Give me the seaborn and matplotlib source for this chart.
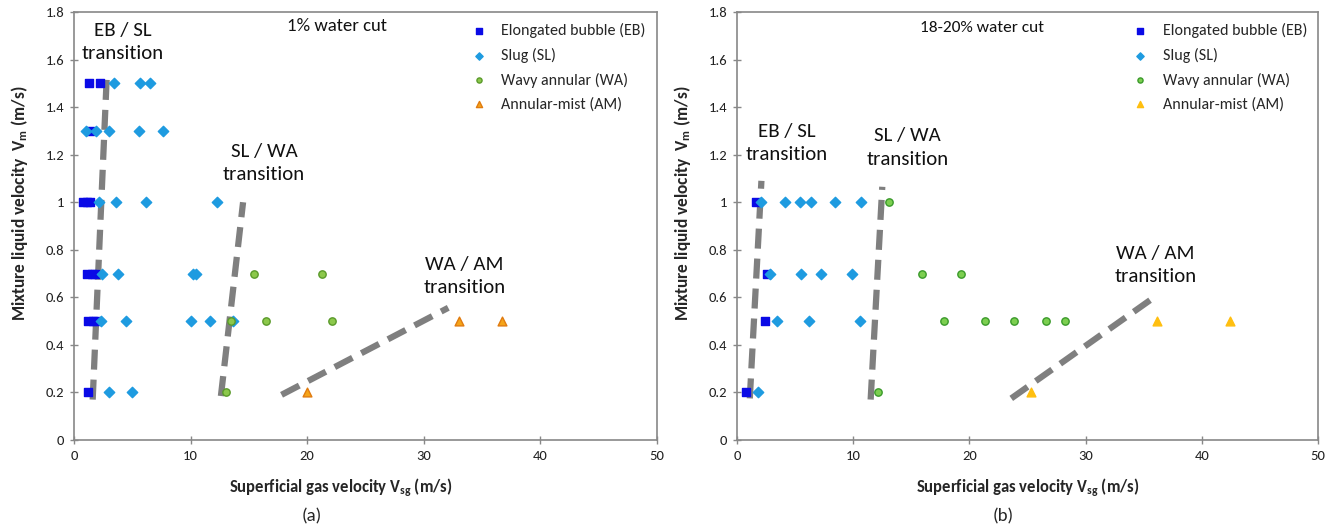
import numpy as np
import pandas as pd
import matplotlib
matplotlib.use("Agg")
import matplotlib.pyplot as plt
import seaborn as sns

sns.set_style("white")
plt.rcParams.update({
    "font.family": ["Carlito", "Lato", "DejaVu Sans"],
    "mathtext.default": "regular",
    "axes.edgecolor": "#888888",
    "axes.linewidth": 1.2,
})

REGIMES = ["Elongated bubble (EB)", "Slug (SL)", "Wavy annular (WA)", "Annular-mist (AM)"]

# panel (a): 1% water cut
a_eb_x = [1.3, 2.2, 1.4, 0.8, 1.1, 1.4, 1.1, 1.5, 1.8, 1.2, 1.6, 1.9, 1.2]
a_eb_y = [1.5, 1.5, 1.3, 1.0, 1.0, 1.0, 0.7, 0.7, 0.7, 0.5, 0.5, 0.5, 0.2]
a_sl_x = [3.4, 5.7, 6.5, 1.0, 1.9, 3.0, 5.6, 7.6, 2.1, 3.6, 6.2, 12.3,
          2.4, 3.8, 10.2, 10.5, 2.3, 4.5, 10.0, 11.7, 13.6, 3.0, 5.0]
a_sl_y = [1.5, 1.5, 1.5, 1.3, 1.3, 1.3, 1.3, 1.3, 1.0, 1.0, 1.0, 1.0,
          0.7, 0.7, 0.7, 0.7, 0.5, 0.5, 0.5, 0.5, 0.5, 0.2, 0.2]
a_wa_x = [15.4, 21.3, 13.5, 16.5, 22.1, 13.0]
a_wa_y = [0.7, 0.7, 0.5, 0.5, 0.5, 0.2]
a_am_x = [33.0, 36.7, 20.0]
a_am_y = [0.5, 0.5, 0.2]

# panel (b): 18-20% water cut
b_eb_x = [1.6, 2.6, 2.4, 0.8]
b_eb_y = [1.0, 0.7, 0.5, 0.2]
b_sl_x = [2.1, 4.1, 5.4, 6.4, 8.4, 10.7, 2.8, 5.5, 7.2, 9.9, 3.4, 6.2, 10.6, 1.8]
b_sl_y = [1.0, 1.0, 1.0, 1.0, 1.0, 1.0, 0.7, 0.7, 0.7, 0.7, 0.5, 0.5, 0.5, 0.2]
b_wa_x = [13.1, 15.9, 19.3, 17.8, 21.3, 23.8, 26.6, 28.2, 12.1]
b_wa_y = [1.0, 0.7, 0.7, 0.5, 0.5, 0.5, 0.5, 0.5, 0.2]
b_am_x = [36.1, 42.4, 25.3]
b_am_y = [0.5, 0.5, 0.2]

# transition lines: (x0, x1), (y0, y1)
a_lines = {"EB / SL": ([1.6, 2.8], [0.17, 1.52]),
           "SL / WA": ([12.6, 14.5], [0.185, 1.0]),
           "WA / AM": ([17.8, 32.1], [0.19, 0.556])}
b_lines = {"EB / SL": ([1.1, 2.1], [0.175, 1.09]),
           "SL / WA": ([11.5, 12.5], [0.17, 1.065]),
           "WA / AM": ([23.6, 35.6], [0.175, 0.59])}

# label anchor (x centre, y top) per transition
a_text = {"EB / SL": (4.2, 1.76), "SL / WA": (16.3, 1.25), "WA / AM": (33.5, 0.775)}
b_text = {"EB / SL": (4.3, 1.335), "SL / WA": (14.7, 1.315), "WA / AM": (36.0, 0.82)}


def frame(eb, sl, wa, am):
    parts = []
    for name, (xs, ys) in zip(REGIMES, [eb, sl, wa, am]):
        parts.append(pd.DataFrame({"vsg": xs, "vm": ys, "regime": name}))
    return pd.concat(parts, ignore_index=True)


df_a = frame((a_eb_x, a_eb_y), (a_sl_x, a_sl_y), (a_wa_x, a_wa_y), (a_am_x, a_am_y))
df_b = frame((b_eb_x, b_eb_y), (b_sl_x, b_sl_y), (b_wa_x, b_wa_y), (b_am_x, b_am_y))

markers = {REGIMES[0]: "s", REGIMES[1]: "D", REGIMES[2]: "o", REGIMES[3]: "^"}
sizes = {REGIMES[0]: 30, REGIMES[1]: 28, REGIMES[2]: 28, REGIMES[3]: 40}
face_a = {REGIMES[0]: "#0a0ae6", REGIMES[1]: "#1e9be0", REGIMES[2]: "#8cc84b", REGIMES[3]: "#f5a418"}
edge_a = {REGIMES[0]: "#0a0ae6", REGIMES[1]: "#1e9be0", REGIMES[2]: "#5a9a2a", REGIMES[3]: "#e07b10"}
face_b = {REGIMES[0]: "#0a0ae6", REGIMES[1]: "#1e9be0", REGIMES[2]: "#7ccf50", REGIMES[3]: "#ffbf10"}
edge_b = {REGIMES[0]: "#0a0ae6", REGIMES[1]: "#1e9be0", REGIMES[2]: "#3a9a2a", REGIMES[3]: "#ffbf10"}

fig = plt.figure(figsize=(13.41, 5.25), dpi=100)
ax_a = fig.add_axes([0.0552, 0.1619, 0.4347, 0.8152])
ax_b = fig.add_axes([0.5496, 0.1619, 0.4333, 0.8152])

panels = [
    (ax_a, df_a, a_lines, a_text, face_a, edge_a, "1% water cut", (18.3, 1.741), 13.5, "(a)", 0.458, 0.408),
    (ax_b, df_b, b_lines, b_text, face_b, edge_b, "18-20% water cut", (15.75, 1.733), 12.5, "(b)", 0.5, 0.458),
]

for ax, df, lines, texts, face, edge, cut, cut_pos, cut_fs, tag, xl_x, tag_x in panels:
    for name in REGIMES:
        sub = df[df["regime"] == name]
        sns.scatterplot(data=sub, x="vsg", y="vm", ax=ax, marker=markers[name],
                        s=sizes[name], color=face[name], edgecolor=edge[name],
                        linewidth=1.0, label=name, zorder=3)
    for key, (xs, ys) in lines.items():
        ax.plot(xs, ys, color="#7f7f7f", lw=4.5, ls=(0, (3.2, 1.6)),
                solid_capstyle="butt", zorder=2)
        tx, ty = texts[key]
        ax.text(tx, ty, key + "\ntransition", ha="center", va="top",
                fontsize=15, color="#111111", linespacing=1.45)
    ax.text(cut_pos[0], cut_pos[1], cut, ha="left", va="center", fontsize=cut_fs, color="#111111")

    ax.set_xlim(0, 50)
    ax.set_ylim(0, 1.8)
    ax.set_xticks(np.arange(0, 51, 10))
    ax.set_yticks(np.arange(0, 1.81, 0.2))
    ax.set_yticklabels(["0", "0.2", "0.4", "0.6", "0.8", "1", "1.2", "1.4", "1.6", "1.8"])
    ax.tick_params(axis="both", direction="inout", length=6, width=1, color="#888888",
                   labelsize=10.5, labelcolor="#222222", pad=4)
    ax.tick_params(left=True, bottom=True)
    ax.set_xlabel("Superficial gas velocity V$_{sg}$ (m/s)", fontsize=12, fontweight="bold")
    ax.xaxis.set_label_coords(xl_x, -0.085)
    ax.set_ylabel("Mixture liquid velocity  V$_{m}$ (m/s)", fontsize=12.5, fontweight="bold")
    ax.yaxis.set_label_coords(-0.075, 0.553)
    ax.text(tag_x, -0.16, tag, transform=ax.transAxes, ha="center", va="top", fontsize=13.5)
    for sp in ax.spines.values():
        sp.set_visible(True)
        sp.set_color("#888888")

    ax.legend(loc="upper right", bbox_to_anchor=(1.0, 1.0), frameon=False,
              fontsize=11.5, handletextpad=0.4, labelspacing=0.6,
              markerscale=0.7, borderaxespad=0.3)

fig.savefig("out.png", dpi=100)
